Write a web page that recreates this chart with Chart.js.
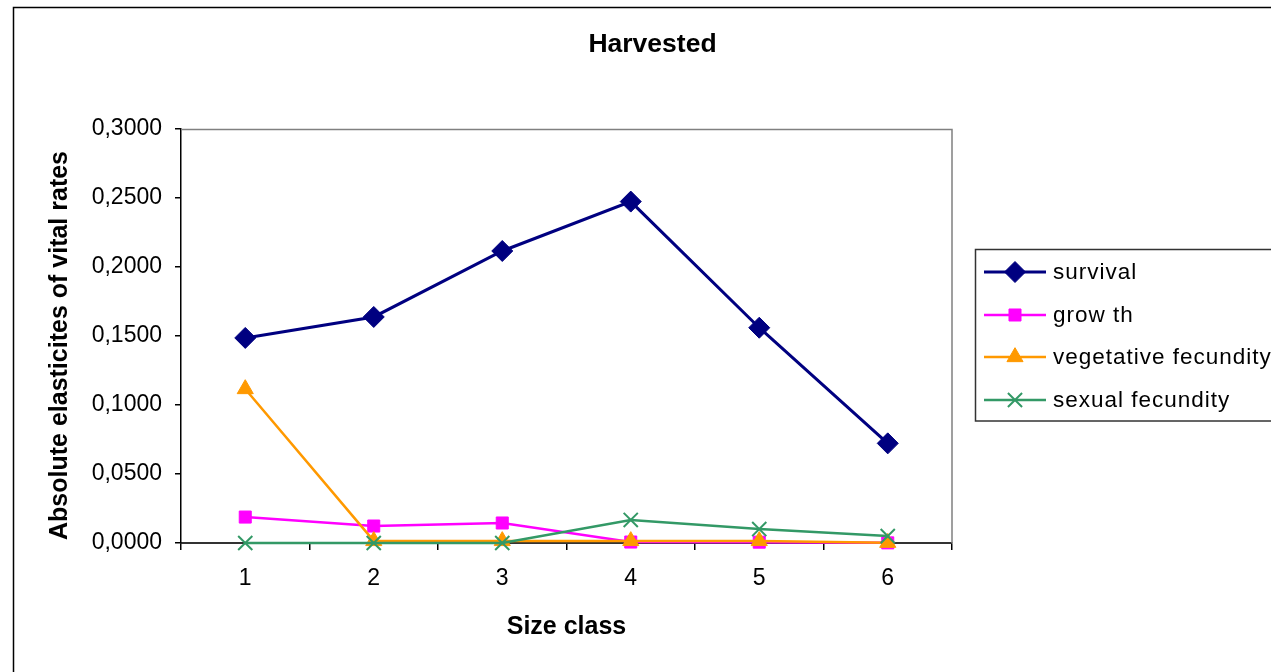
<!DOCTYPE html>
<html>
<head>
<meta charset="utf-8">
<script src="https://cdn.jsdelivr.net/npm/chart.js@4/dist/chart.umd.min.js"></script>
<style>
  html, body { margin: 0; padding: 0; background: #fff; }
  #wrap { position: relative; width: 1271px; height: 672px; }
</style>
</head>
<body>
<div id="wrap"><canvas id="c" width="1271" height="672"></canvas></div>
<script>
const categories = ['1', '2', '3', '4', '5', '6'];
const survival   = [0.1486, 0.1638, 0.2116, 0.2474, 0.1560, 0.0722];
const growth     = [0.0188, 0.0123, 0.0145, 0.0007, 0.0006, 0.0001];
const vegetative = [0.1116, 0.0015, 0.0015, 0.0015, 0.0015, 0.0002];
const sexual     = [0.0000, 0.0000, 0.0000, 0.0167, 0.0101, 0.0050];
const seriesNames = ['survival', 'grow th', 'vegetative fecundity', 'sexual fecundity'];
const chartTitle = 'Harvested';
const xTitle = 'Size class';
const yTitle = 'Absolute elasticites of vital rates';
const yMin = 0, yMax = 0.3, yStep = 0.05;

const FONT = "'Liberation Sans', Arial, Helvetica, sans-serif";
Chart.defaults.font.family = FONT;
Chart.defaults.color = '#000';

const decorPlugin = {
  id: 'decor',
  beforeDraw(chart) {
    const ctx = chart.ctx;
    ctx.save();
    ctx.fillStyle = '#fff';
    ctx.fillRect(0, 0, chart.width, chart.height);
    ctx.strokeStyle = '#000';
    ctx.lineWidth = 1.5;
    ctx.strokeRect(13.5, 7.5, 3000, 3000);
    ctx.restore();
  },
  beforeDatasetsDraw(chart) {
    const {ctx, chartArea: a} = chart;
    ctx.save();
    ctx.strokeStyle = '#808080';
    ctx.lineWidth = 1.5;
    ctx.beginPath();
    ctx.moveTo(a.left, a.top + 0.5);
    ctx.lineTo(a.right, a.top + 0.5);
    ctx.lineTo(a.right, a.bottom);
    ctx.stroke();
    ctx.restore();
  },
  afterDraw(chart) {
    const ctx = chart.ctx;
    const a = chart.chartArea;
    ctx.save();
    ctx.fillStyle = '#000';
    ctx.font = "bold 26.5px " + FONT;
    ctx.textAlign = 'center';
    ctx.textBaseline = 'alphabetic';
    ctx.fillText(chartTitle, 652.5, 52);
    // y-axis title
    ctx.save();
    ctx.translate(67, 345.5);
    ctx.rotate(-Math.PI / 2);
    ctx.font = "bold 25px " + FONT;
    ctx.textAlign = 'center';
    ctx.textBaseline = 'alphabetic';
    ctx.fillText(yTitle, 0, 0);
    ctx.restore();
    // legend
    ctx.strokeStyle = '#333';
    ctx.lineWidth = 1.5;
    ctx.strokeRect(975.5, 249.5, 400, 171.5);
    const rowY = [272, 315, 357, 400];
    chart.data.datasets.forEach((ds, i) => {
      const y = rowY[i];
      ctx.strokeStyle = ds.borderColor;
      ctx.lineWidth = ds.borderWidth;
      ctx.beginPath();
      ctx.moveTo(984, y);
      ctx.lineTo(1046, y);
      ctx.stroke();
      ctx.fillStyle = ds.pointBackgroundColor;
      ctx.strokeStyle = ds.pointBorderColor;
      ctx.lineWidth = ds.pointBorderWidth || 1;
      Chart.helpers.drawPoint(ctx, {
        pointStyle: ds.pointStyle,
        radius: ds.pointRadius,
        borderWidth: ds.pointBorderWidth || 1,
        rotation: 0
      }, 1015, y);
      ctx.fillStyle = '#000';
      ctx.font = "22.5px " + FONT;
      ctx.textAlign = 'left';
      ctx.textBaseline = 'middle';
      if ('letterSpacing' in ctx) ctx.letterSpacing = '1px';
      ctx.fillText(ds.label, 1053, y + 1);
      if ('letterSpacing' in ctx) ctx.letterSpacing = '0px';
    });
    ctx.restore();
  }
};

const mk = (label, data, color, style, radius, order, extra) => Object.assign({
  label, data,
  borderColor: color,
  backgroundColor: color,
  borderWidth: 2.5,
  pointStyle: style,
  pointRadius: radius,
  pointHoverRadius: radius,
  pointBackgroundColor: color,
  pointBorderColor: color,
  pointBorderWidth: 1,
  tension: 0,
  fill: false,
  clip: false,
  order
}, extra || {});

new Chart(document.getElementById('c'), {
  type: 'line',
  data: {
    labels: categories,
    datasets: [
      mk(seriesNames[0], survival, '#000080', 'rectRot', 10.5, 4, {borderWidth: 3}),
      mk(seriesNames[1], growth, '#FF00FF', 'rect', 8.5, 3),
      mk(seriesNames[2], vegetative, '#FF9900', 'triangle', 9.3, 2),
      mk(seriesNames[3], sexual, '#339966', 'crossRot', 10, 1, {pointBorderWidth: 2})
    ]
  },
  options: {
    responsive: false,
    animation: false,
    devicePixelRatio: 1,
    layout: { padding: { top: 129, right: 319, left: 0, bottom: 0 } },
    plugins: {
      legend: { display: false },
      title: { display: false },
      tooltip: { enabled: false }
    },
    scales: {
      x: {
        type: 'category',
        offset: true,
        grid: { display: true, offset: true, drawOnChartArea: false, drawTicks: true, tickLength: 7, color: '#000', lineWidth: 1.5 },
        border: { display: true, color: '#333', width: 2 },
        ticks: { font: { size: 23 }, color: '#000', padding: 15, maxRotation: 0 },
        title: { display: true, text: xTitle, font: { size: 25, weight: 'bold' }, color: '#000', padding: { top: 0, bottom: 30 } },
        afterFit(scale) { scale.height = 129; }
      },
      y: {
        min: yMin, max: yMax,
        grid: { display: true, drawOnChartArea: false, drawTicks: true, tickLength: 6, color: '#000', lineWidth: 1.5 },
        border: { display: true, color: '#000', width: 1.5 },
        ticks: {
          stepSize: yStep,
          font: { size: 23 },
          color: '#000',
          padding: 13,
          callback: v => Number(v).toFixed(4).replace('.', ',')
        },
        title: { display: false },
        afterFit(scale) { scale.width = 181; }
      }
    }
  },
  plugins: [decorPlugin]
});
</script>
</body>
</html>
